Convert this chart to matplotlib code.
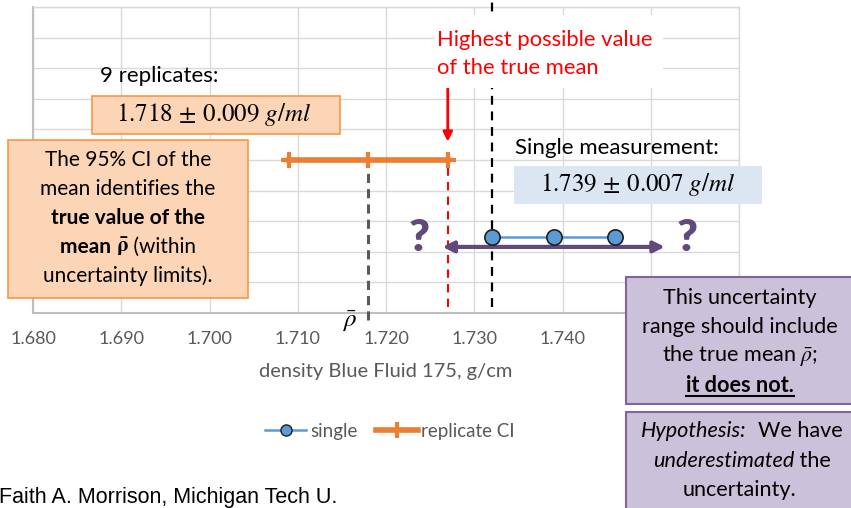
import matplotlib.pyplot as plt
from matplotlib.patches import Rectangle
from matplotlib.lines import Line2D

plt.rcParams['font.family'] = ['Lato', 'DejaVu Sans']
plt.rcParams['mathtext.fontset'] = 'stix'

# data
single_x = [1.732, 1.739, 1.746]
single_y = [2.5, 2.5, 2.5]
replicate_x = [1.709, 1.718, 1.727]
replicate_y = [5, 5, 5]
range_lo = 1.7264
range_hi = 1.7516
range_y = 2.16
x_ticks = [1.680, 1.690, 1.700, 1.710, 1.720, 1.730, 1.740, 1.750, 1.760]
# the last two labels sit under the purple note in the original
x_labels = ['1.680', '1.690', '1.700', '1.710', '1.720', '1.730', '1.740', '', '']

W, H = 851, 508
ORANGE = '#ED7D31'
BLUE = '#5B9BD5'
PURPLE = '#604A7B'
GREY = '#595959'

fig = plt.figure(figsize=(W / 100, H / 100), dpi=100)


def fx(px):
    return px / W


def fy(py):
    return 1 - py / H


def box(x0, y0, x1, y1, fc, ec=None, lw=1.2):
    fig.add_artist(Rectangle((fx(x0), fy(y1)), fx(x1) - fx(x0), fy(y0) - fy(y1),
                             transform=fig.transFigure, facecolor=fc,
                             edgecolor=ec if ec else 'none', lw=lw, zorder=2))


def mixed_line(cx, cy, parts, size):
    r = fig.canvas.get_renderer()
    texts = []
    for s, kw in parts:
        texts.append(fig.text(0, fy(cy), s, fontsize=size, va='center', ha='left',
                              zorder=3, **kw))
    widths = [t.get_window_extent(r).width for t in texts]
    x = cx - sum(widths) / 2
    for t, w in zip(texts, widths):
        t.set_x(x / W)
        x += w
    return texts


ax = fig.add_axes([fx(33), fy(313), fx(739) - fx(33), fy(7) - fy(313)])
ax.set_xlim(x_ticks[0], x_ticks[-1])
ax.set_ylim(0, 10)
ax.set_xticks(x_ticks)
ax.set_xticklabels(x_labels, color=GREY, fontsize=13)
ax.set_yticks(range(11))
ax.set_yticklabels([])
ax.tick_params(length=0, pad=13)
ax.grid(True, color='#D9D9D9', lw=1)
ax.set_axisbelow(True)
for s in ['top', 'right']:
    ax.spines[s].set_color('#D9D9D9')
    ax.spines[s].set_linewidth(1)
for s in ['left', 'bottom']:
    ax.spines[s].set_color('#BFBFBF')
    ax.spines[s].set_linewidth(1.5)

# series
ax.plot(single_x, single_y, color=BLUE, lw=1.8, marker='o', ms=11,
        mfc=BLUE, mec='#1F1F1F', mew=1.2, zorder=6, label='single')
ax.plot(replicate_x, replicate_y, color=ORANGE, lw=4, marker='+', ms=11.5,
        mew=3, zorder=5, label='replicate CI')

# reference lines
ax.plot([replicate_x[2]] * 2, [0.2, replicate_y[2]], color='red', lw=1.5,
        ls=(0, (4, 3)), zorder=4)
ax.plot([single_x[0]] * 2, [0.2, 10.25], color='black', lw=1.6,
        ls=(0, (4, 3)), zorder=4, clip_on=False)
ax.plot([replicate_x[1]] * 2, [-0.23, replicate_y[1]], color=GREY, lw=2.2,
        ls=(0, (3, 2)), zorder=4, clip_on=False)
ax.text(1.7159, -0.3, r'$\bar{\rho}$', fontsize=18, ha='center', va='center',
        clip_on=False)

# arrows
ax.annotate('', xy=(replicate_x[2], 5.6), xytext=(replicate_x[2], 7.45),
            arrowprops=dict(arrowstyle='-|>', color='red', lw=2,
                            mutation_scale=14, shrinkA=0, shrinkB=0))
ax.annotate('', xy=(range_lo, range_y), xytext=(range_hi, range_y),
            arrowprops=dict(arrowstyle='<|-|>', color=PURPLE, lw=3,
                            mutation_scale=16, shrinkA=0, shrinkB=0), zorder=5)
ax.text(1.7238, 2.45, '?', fontsize=32, weight='heavy', color=PURPLE,
        ha='center', va='center')
ax.text(1.7541, 2.45, '?', fontsize=32, weight='heavy', color=PURPLE,
        ha='center', va='center')

# axis title and legend
fig.text(fx(386), fy(372), 'density Blue Fluid 175, g/cm', color=GREY,
         fontsize=14.5, ha='center', va='center')
handles = [Line2D([], [], color=BLUE, lw=1.8, marker='o', ms=8, mfc=BLUE,
                  mec='#1F1F1F', mew=1),
           Line2D([], [], color=ORANGE, lw=4, marker='+', ms=11, mew=3)]
ax.legend(handles, ['single', 'replicate CI'], loc='center',
          bbox_to_anchor=(fx(390), fy(431)), bbox_transform=fig.transFigure,
          ncol=2, frameon=False, fontsize=13.5, labelcolor=GREY,
          handlelength=2.2, columnspacing=1.0, handletextpad=0.2)

# red note
box(435, 15, 663, 88, 'white')
fig.text(fx(437), fy(40), 'Highest possible value', color='red', fontsize=15.8,
         ha='left', va='center', zorder=3)
fig.text(fx(437), fy(68), 'of the true mean', color='red', fontsize=15.8,
         ha='left', va='center', zorder=3)

# replicate notes
fig.text(fx(100), fy(76), '9 replicates:', fontsize=16, ha='left', va='center')
box(92, 96, 340, 134, '#FBD5B5', '#F79646')
fig.text(fx(214), fy(115), r'$1.718 \,\pm\, 0.009\ g/ml$', fontsize=18,
         ha='center', va='center', zorder=3)

box(8, 140, 248, 298, '#FBD5B5', '#F79646')
mixed_line(128, 160, [('The 95% CI of the', {})], 15)
mixed_line(128, 189, [('mean identifies the', {})], 15)
mixed_line(128, 218, [('true value of the', {'weight': 'bold'})], 15)
mixed_line(128, 247, [('mean ', {'weight': 'bold'}),
                      (r'$\mathbf{\bar{\rho}}$', {'weight': 'bold'}),
                      (' (within', {})], 15)
mixed_line(128, 276, [('uncertainty limits).', {})], 15)

# single measurement notes
fig.text(fx(515), fy(148), 'Single measurement:', fontsize=16, ha='left',
         va='center')
box(514, 166, 762, 204, '#DCE6F2')
fig.text(fx(638), fy(185), r'$1.739 \,\pm\, 0.007\ g/ml$', fontsize=18,
         ha='center', va='center', zorder=3)

# purple boxes
box(626, 277, 855, 404, '#CCC1DA', '#8064A2', 1.5)
mixed_line(740, 298, [('This uncertainty', {})], 15.6)
mixed_line(740, 327, [('range should include', {})], 15.6)
mixed_line(740, 356, [(r'the true mean $\bar{\rho}$;', {})], 15.6)
t = mixed_line(740, 385, [('it does not.', {'weight': 'bold'})], 15.6)[0]
bb = t.get_window_extent(fig.canvas.get_renderer())
fig.add_artist(Line2D([bb.x0 / W, bb.x1 / W], [fy(396), fy(396)], color='black',
                      lw=1.5, transform=fig.transFigure, zorder=3))

box(626, 412, 855, 515, '#CCC1DA', '#8064A2', 1.5)
mixed_line(742, 431, [('Hypothesis:', {'style': 'italic'}), ('  We have', {})], 15.6)
mixed_line(742, 461, [('underestimated', {'style': 'italic'}), (' the', {})], 15.6)
mixed_line(740, 490, [('uncertainty.', {})], 15.6)

fig.text(fx(-1), fy(497), 'Faith A. Morrison, Michigan Tech U.',
         family='Liberation Sans', fontsize=15.5, ha='left', va='center')

fig.savefig('out.png', dpi=100)
